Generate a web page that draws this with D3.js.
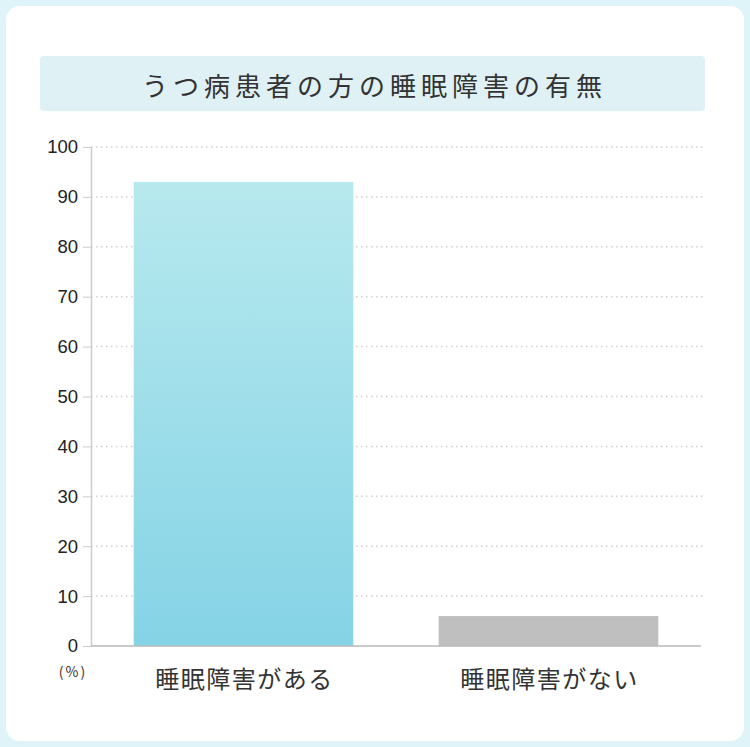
<!DOCTYPE html>
<html>
<head>
<meta charset="utf-8">
<script src="https://cdnjs.cloudflare.com/ajax/libs/d3/7.8.5/d3.min.js"></script>
<style>
  html, body { margin: 0; padding: 0; background: #dff4f9; }
  svg { display: block; }
</style>
</head>
<body>
<div id="chart"></div>
<script>
var title = "うつ病患者の方の睡眠障害の有無";
var categories = ["睡眠障害がある", "睡眠障害がない"];
var values = [93, 6];
var yTicks = [0, 10, 20, 30, 40, 50, 60, 70, 80, 90, 100];
var unitLabel = "(%)";

var W = 750, H = 747;
var margin = {top: 147, right: 48, bottom: 101, left: 91};
var width = W - margin.left - margin.right;
var height = H - margin.top - margin.bottom;
var jp = "'Noto Sans CJK JP', 'Noto Sans', sans-serif";

var svg = d3.select("#chart").append("svg")
    .attr("width", W)
    .attr("height", H);

// background card
svg.append("rect").attr("width", W).attr("height", H).attr("fill", "#dff4f9");
svg.append("rect")
    .attr("x", 6).attr("y", 6)
    .attr("width", 738).attr("height", 735)
    .attr("rx", 14)
    .attr("fill", "#ffffff");

// title box
svg.append("rect")
    .attr("x", 40).attr("y", 56)
    .attr("width", 665).attr("height", 55)
    .attr("rx", 4)
    .attr("fill", "#dff1f5");
svg.append("text")
    .attr("x", 372 + 2.5).attr("y", 84)
    .attr("text-anchor", "middle")
    .attr("dominant-baseline", "central")
    .style("font-family", jp)
    .style("font-size", "26px")
    .style("letter-spacing", "5px")
    .attr("fill", "#333")
    .text(title);

var defs = svg.append("defs");
var grad = defs.append("linearGradient")
    .attr("id", "barGrad")
    .attr("x1", 0).attr("y1", 0).attr("x2", 0).attr("y2", 1);
grad.append("stop").attr("offset", "0%").attr("stop-color", "#b7e9ee");
grad.append("stop").attr("offset", "100%").attr("stop-color", "#85d3e6");

var g = svg.append("g")
    .attr("transform", "translate(" + margin.left + "," + margin.top + ")");

var x = d3.scaleBand()
    .domain(categories)
    .range([0, 610])
    .paddingInner(0.28)
    .paddingOuter(0.14);

var y = d3.scaleLinear()
    .domain([0, 100])
    .range([height, 0]);

// dotted gridlines
g.selectAll(".grid")
    .data(yTicks.filter(function(d){ return d > 0; }))
    .enter().append("line")
    .attr("x1", 0).attr("x2", 612)
    .attr("y1", function(d){ return y(d); })
    .attr("y2", function(d){ return y(d); })
    .attr("stroke", "#cfcfcf")
    .attr("stroke-width", 1.5)
    .attr("stroke-dasharray", "1.5,3.5");

// bars
g.selectAll(".bar")
    .data(values)
    .enter().append("rect")
    .attr("x", function(d, i){ return x(categories[i]); })
    .attr("y", function(d){ return y(d); })
    .attr("width", x.bandwidth())
    .attr("height", function(d){ return height - y(d); })
    .attr("fill", function(d, i){ return i === 0 ? "url(#barGrad)" : "#bfbfbf"; });

// y axis
var yAxis = g.append("g")
    .call(d3.axisLeft(y).tickValues(yTicks).tickSize(8).tickSizeOuter(0).tickPadding(5));
yAxis.select(".domain").attr("stroke", "#cccccc").attr("stroke-width", 1.5);
yAxis.selectAll(".tick line").attr("stroke", "#cccccc");
yAxis.selectAll(".tick text")
    .attr("fill", "#222")
    .style("font-family", "'Liberation Sans', Arial, sans-serif")
    .style("font-size", "18.5px");

// x axis line
g.append("line")
    .attr("x1", 0).attr("x2", 610)
    .attr("y1", height).attr("y2", height)
    .attr("stroke", "#b8b8b8")
    .attr("stroke-width", 1.5);

// category labels
g.selectAll(".cat")
    .data(categories)
    .enter().append("text")
    .attr("x", function(d){ return x(d) + x.bandwidth() / 2 + 1; })
    .attr("y", height + 31)
    .attr("text-anchor", "middle")
    .attr("dominant-baseline", "central")
    .style("font-family", jp)
    .style("font-size", "24px")
    .style("letter-spacing", "1.5px")
    .attr("fill", "#333")
    .text(function(d){ return d; });

// unit label
g.append("text")
    .attr("x", -18).attr("y", height + 25)
    .attr("text-anchor", "middle")
    .attr("dominant-baseline", "central")
    .style("font-family", jp)
    .style("font-size", "14px")
    .style("letter-spacing", "2px")
    .attr("fill", "#333")
    .text(unitLabel);
</script>
</body>
</html>
